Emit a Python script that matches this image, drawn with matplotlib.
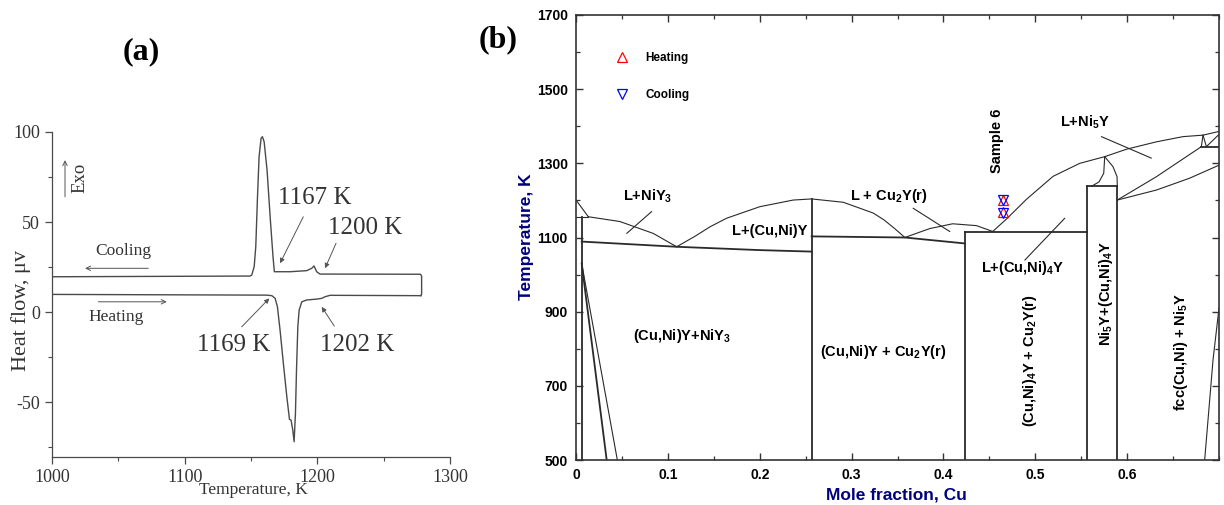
import matplotlib
matplotlib.use("Agg")
import matplotlib.pyplot as plt
from matplotlib.ticker import MultipleLocator, FixedLocator, FixedFormatter

plt.rcParams["axes.unicode_minus"] = False

# ------------------------------------------------------------------
# Panel (a): DSC curves
# ------------------------------------------------------------------
cool_T = [1000, 1149.3, 1150.6, 1152.4, 1153.6, 1154.9, 1156.1, 1157.6, 1158.6, 1159.9,
          1162.1, 1164.6, 1166.6, 1167.6, 1179.5, 1192.0, 1195.8, 1197.5, 1199.5, 1202.0,
          1277.8, 1278.6, 1278.6, 1278.0]
cool_q = [19.6, 20.0, 20.6, 25.2, 36.3, 64.1, 86.3, 96.5, 97.4, 94.6,
          78.9, 51.1, 30.7, 22.4, 22.4, 23.0, 24.3, 25.6, 22.4, 21.1,
          21.0, 20.0, 10.0, 9.1]
heat_T = [1000, 1161.9, 1165.7, 1168.2, 1169.9, 1171.9, 1174.4, 1177.0, 1179.0, 1180.2,
          1181.5, 1182.5, 1183.5, 1184.3, 1185.3, 1186.3, 1188.3, 1192.0, 1199.5, 1203.3,
          1205.8, 1209.6, 1278.0]
heat_q = [9.8, 9.4, 9.1, 7.6, 3.0, -10.0, -28.5, -47.0, -59.6, -60.0,
          -65.6, -72.0, -56.3, -32.2, -8.1, 1.1, 5.7, 6.7, 7.2, 7.6,
          8.5, 9.3, 9.1]

# DSC event temperatures (K) of sample 6
heating_events = [1169, 1202]
cooling_events = [1167, 1200]
sample_x = 0.465

a_xticks = [1000, 1100, 1200, 1300]
a_yticks = [-50, 0, 50, 100]

# ------------------------------------------------------------------
# Panel (b): Cu-Ni-Y isopleth, boundaries (mole fraction Cu, T in K)
# ------------------------------------------------------------------
edge_x, edge_T = [0.0, 0.0134], [1201, 1156]
per1_x, per1_T = [0.0, 0.0134], [1156, 1156]
niy3_x, niy3_T = [0.0062, 0.0062], [1156, 500]
solv1_x, solv1_T = [0.0062, 0.0334], [1030, 500]
solv2_x, solv2_T = [0.0062, 0.0450], [1030, 500]
liq_niy3_x = [0.0134, 0.0479, 0.0841, 0.1096]
liq_niy3_T = [1156, 1143, 1111, 1075]
sol1_x = [0.0062, 0.1096, 0.2002, 0.2565]
sol1_T = [1089, 1075, 1066, 1062]
liq_cuniy_x = [0.1096, 0.1300, 0.1460, 0.1640, 0.2000, 0.2365, 0.2565, 0.2910, 0.3235, 0.3350, 0.3470, 0.3580]
liq_cuniy_T = [1075, 1104, 1129, 1152, 1183, 1201, 1204, 1195, 1166, 1148, 1124, 1100]
cuniy_x, cuniy_T = [0.2565, 0.2565], [1204, 500]
sol2_x = [0.2565, 0.3580, 0.4233]
sol2_T = [1103, 1100, 1084]
liq_cu2y_x = [0.358, 0.385, 0.410, 0.436, 0.454]
liq_cu2y_T = [1100, 1124, 1137, 1132, 1116]
cu4y_l_x, cu4y_l_T = [0.4233, 0.4233], [1114, 500]
per2_x, per2_T = [0.4233, 0.5564], [1114, 1114]
cu4y_r_x, cu4y_r_T = [0.5564, 0.5564], [500, 1238]
per3_x, per3_T = [0.5564, 0.5893], [1238, 1238]
ni5y_x, ni5y_T = [0.5893, 0.5893], [500, 1238]
liq_cu4y_x = [0.454, 0.4687, 0.4904, 0.5194, 0.5484, 0.5756]
liq_cu4y_T = [1117, 1150, 1203, 1265, 1300, 1318]
dome_l_x = [0.5612, 0.5694, 0.5745, 0.5756]
dome_l_T = [1238, 1250, 1273, 1318]
dome_r_x = [0.5756, 0.5846, 0.5890, 0.5893]
dome_r_T = [1318, 1291, 1264, 1238]
liq_ni5y_x = [0.5756, 0.5992, 0.6319, 0.6608, 0.6826, 0.7000]
liq_ni5y_T = [1318, 1338, 1358, 1372, 1376, 1386]
lens1_x, lens1_T = [0.6826, 0.6808], [1376, 1345]
lens2_x, lens2_T = [0.6826, 0.6863], [1376, 1345]
lens3_x, lens3_T = [0.6808, 0.7000], [1345, 1345]
lens4_x, lens4_T = [0.6863, 0.7000], [1345, 1378]
sol_up_x = [0.5893, 0.6319, 0.6808]
sol_up_T = [1201, 1264, 1345]
sol_lo_x = [0.5893, 0.6319, 0.6681, 0.7000]
sol_lo_T = [1201, 1228, 1260, 1295]
fcc_x = [0.6844, 0.6935, 0.6989, 0.7000]
fcc_T = [500, 770, 886, 910]

b_xticks = [0.0, 0.1, 0.2, 0.3, 0.4, 0.5, 0.6]
b_xlabels = ["0", "0.1", "0.2", "0.3", "0.4", "0.5", "0.6"]
b_yticks = [500, 700, 900, 1100, 1300, 1500, 1700]

# ------------------------------------------------------------------
W, H = 1224, 505
fig = plt.figure(figsize=(W / 100, H / 100), dpi=100)

def rect(l, t, r, b):
    return [l / W, 1 - b / H, (r - l) / W, (b - t) / H]

# ---------------- panel (a) ----------------
SERIF = "Liberation Serif"
GREY = "#4a4a4a"
TXT = "#333333"
axa = fig.add_axes(rect(52, 132, 450, 457))
axa.plot(cool_T, cool_q, color=GREY, lw=1.0)
axa.plot(heat_T, heat_q, color=GREY, lw=1.0)
axa.set_xlim(1000, 1300)
axa.set_ylim(-80.5, 100)
for s in ["top", "right"]:
    axa.spines[s].set_visible(False)
for s in ["left", "bottom"]:
    axa.spines[s].set_color(GREY)
    axa.spines[s].set_linewidth(0.9)
axa.xaxis.set_major_locator(FixedLocator(a_xticks))
axa.xaxis.set_minor_locator(MultipleLocator(50))
axa.yaxis.set_major_locator(FixedLocator(a_yticks))
axa.yaxis.set_minor_locator(FixedLocator([-75, -25, 25, 75]))
axa.tick_params(which="both", direction="out", colors=GREY, labelcolor=TXT,
                labelsize=13)
axa.tick_params(which="major", length=5, width=0.9)
axa.tick_params(which="minor", length=3, width=0.8)
for lab in axa.get_xticklabels() + axa.get_yticklabels():
    lab.set_fontfamily(SERIF)
axa.set_xlabel("Temperature, K", fontfamily=SERIF, fontsize=12.5, color=TXT)
axa.set_ylabel("Heat flow, \u03bcv", fontfamily=SERIF, fontsize=16, color=TXT)
axa.xaxis.set_label_coords(0.506, -0.077)
axa.yaxis.set_label_coords(-0.053, 0.452)

arrow_kw = dict(arrowstyle="-|>", color="#555555", lw=0.7, mutation_scale=7,
                shrinkA=0, shrinkB=0)
big = dict(fontfamily=SERIF, fontsize=18, color=TXT, ha="center", va="center")
# event labels
axa.text(1198.2, 63.3, f"{cooling_events[0]} K", **big)
axa.annotate("", xy=(1171.9, 27.1), xytext=(1189.4, 52.9), arrowprops=arrow_kw)
axa.text(1236.0, 46.5, f"{cooling_events[1]} K", **big)
axa.annotate("", xy=(1205.8, 24.3), xytext=(1214.1, 38.2), arrowprops=arrow_kw)
axa.text(1136.7, -18.3, f"{heating_events[0]} K", **big)
axa.annotate("", xy=(1163.8, 7.6), xytext=(1143.0, -8.2), arrowprops=arrow_kw)
axa.text(1229.7, -18.3, f"{heating_events[1]} K", **big)
axa.annotate("", xy=(1203.3, 2.9), xytext=(1212.8, -7.8), arrowprops=arrow_kw)
# direction arrows
dir_kw = dict(arrowstyle="->", color="#555555", lw=0.7, mutation_scale=8,
              shrinkA=0, shrinkB=0)
axa.text(1053.7, 34.0, "Cooling", fontfamily=SERIF, fontsize=12.5, color=TXT,
         ha="center", va="center")
axa.annotate("", xy=(1024.9, 24.3), xytext=(1072.6, 24.3), arrowprops=dir_kw)
axa.text(1048.0, -2.9, "Heating", fontfamily=SERIF, fontsize=12.5, color=TXT,
         ha="center", va="center")
axa.annotate("", xy=(1086.5, 5.7), xytext=(1034.9, 5.7), arrowprops=dir_kw)
axa.text(1021.0, 74.3, "Exo", fontfamily=SERIF, fontsize=13.5, color=TXT,
         ha="center", va="center", rotation=90)
axa.annotate("", xy=(1009.8, 84.4), xytext=(1009.8, 64.0), arrowprops=dir_kw)

fig.text(141.7 / W, 1 - 51.7 / H, "(a)", fontfamily=SERIF, fontweight="bold",
         fontsize=23, ha="center", va="center")
fig.text(498.3 / W, 1 - 40 / H, "(b)", fontfamily=SERIF, fontweight="bold",
         fontsize=23, ha="center", va="center")

# ---------------- panel (b) ----------------
SANS = "Liberation Sans"
NAVY = "#00007f"
LC = "#2a2a2a"
axb = fig.add_axes(rect(576, 15, 1219, 460))
thin = dict(color=LC, lw=0.8)
thick = dict(color=LC, lw=1.3)
for xs, ts in [(edge_x, edge_T), (per1_x, per1_T), (liq_niy3_x, liq_niy3_T),
               (solv2_x, solv2_T), (liq_cuniy_x, liq_cuniy_T),
               (liq_cu2y_x, liq_cu2y_T), (liq_cu4y_x, liq_cu4y_T),
               (dome_l_x, dome_l_T), (dome_r_x, dome_r_T),
               (liq_ni5y_x, liq_ni5y_T), (lens1_x, lens1_T), (lens2_x, lens2_T),
               (lens4_x, lens4_T), (sol_up_x, sol_up_T), (sol_lo_x, sol_lo_T),
               (fcc_x, fcc_T)]:
    axb.plot(xs, ts, **thin)
for xs, ts in [(niy3_x, niy3_T), (solv1_x, solv1_T), (sol1_x, sol1_T),
               (cuniy_x, cuniy_T), (sol2_x, sol2_T), (cu4y_l_x, cu4y_l_T),
               (per2_x, per2_T), (cu4y_r_x, cu4y_r_T), (per3_x, per3_T),
               (ni5y_x, ni5y_T), (lens3_x, lens3_T)]:
    axb.plot(xs, ts, **thick)

h_heat, = axb.plot([sample_x] * len(heating_events), heating_events, ls="none",
                   marker="^", ms=7, mfc="none", mec="red", mew=0.9)
h_cool, = axb.plot([sample_x] * len(cooling_events), cooling_events, ls="none",
                   marker="v", ms=7, mfc="none", mec="blue", mew=0.9)
leg = axb.legend([h_heat, h_cool], ["Heating", "Cooling"], loc="upper left",
                 bbox_to_anchor=(0.0527, 0.930), frameon=False, borderpad=0,
                 handlelength=1.0, handletextpad=1.5, labelspacing=2.1,
                 prop=dict(family=SANS, weight="bold", size=8.5))

axb.set_xlim(0, 0.7)
axb.set_ylim(500, 1700)
axb.xaxis.set_major_locator(FixedLocator(b_xticks))
axb.xaxis.set_major_formatter(FixedFormatter(b_xlabels))
axb.xaxis.set_minor_locator(MultipleLocator(0.05))
axb.yaxis.set_major_locator(FixedLocator(b_yticks))
axb.yaxis.set_minor_locator(MultipleLocator(100))
axb.tick_params(which="both", direction="in", top=True, right=True,
                colors="#333333", labelcolor="black", labelsize=10, pad=6)
axb.tick_params(which="major", length=5, width=1.0)
axb.tick_params(which="minor", length=3, width=0.9)
for lab in axb.get_xticklabels() + axb.get_yticklabels():
    lab.set_fontfamily(SANS)
    lab.set_fontweight("bold")
for s in axb.spines.values():
    s.set_color("#333333")
    s.set_linewidth(1.2)
axb.set_xlabel("Mole fraction, Cu", fontfamily=SANS, fontweight="bold",
               fontsize=12.5, color=NAVY)
axb.set_ylabel("Temperature, K", fontfamily=SANS, fontweight="bold",
               fontsize=12.5, color=NAVY)
axb.xaxis.set_label_coords(0.499, -0.061)
axb.yaxis.set_label_coords(-0.065, 0.502)

lab_kw = dict(fontfamily=SANS, fontweight="bold", fontsize=10.5, color="black",
              ha="center", va="center")
lead = dict(arrowstyle="-", color=LC, lw=0.8, shrinkA=0, shrinkB=0)
axb.text(0.078, 1210, "L+NiY$\\mathregular{_3}$", **lab_kw)
axb.annotate("", xy=(0.0552, 1111), xytext=(0.0824, 1170), arrowprops=lead)
axb.text(0.211, 1117, "L+(Cu,Ni)Y", **lab_kw)
axb.text(0.3406, 1212, "L + Cu$\\mathregular{_2}$Y(r)", **lab_kw)
axb.annotate("", xy=(0.407, 1116), xytext=(0.367, 1179), arrowprops=lead)
axb.text(0.4578, 1360, "Sample 6", rotation=90, **lab_kw)
axb.text(0.5539, 1410, "L+Ni$\\mathregular{_5}$Y", **lab_kw)
axb.annotate("", xy=(0.6264, 1314), xytext=(0.572, 1372), arrowprops=lead)
axb.text(0.4867, 1017, "L+(Cu,Ni)$\\mathregular{_4}$Y", **lab_kw)
axb.annotate("", xy=(0.5321, 1152), xytext=(0.4886, 1039), arrowprops=lead)
axb.text(0.115, 834, "(Cu,Ni)Y+NiY$\\mathregular{_3}$", **lab_kw)
axb.text(0.334, 791, "(Cu,Ni)Y + Cu$\\mathregular{_2}$Y(r)", **lab_kw)
axb.text(0.494, 767, "(Cu,Ni)$\\mathregular{_4}$Y + Cu$\\mathregular{_2}$Y(r)",
         rotation=90, **lab_kw)
axb.text(0.5775, 948, "Ni$\\mathregular{_5}$Y+(Cu,Ni)$\\mathregular{_4}$Y",
         rotation=90, **lab_kw)
axb.text(0.659, 791, "fcc(Cu,Ni) + Ni$\\mathregular{_5}$Y", rotation=90, **lab_kw)

fig.savefig("out.png", dpi=100)
